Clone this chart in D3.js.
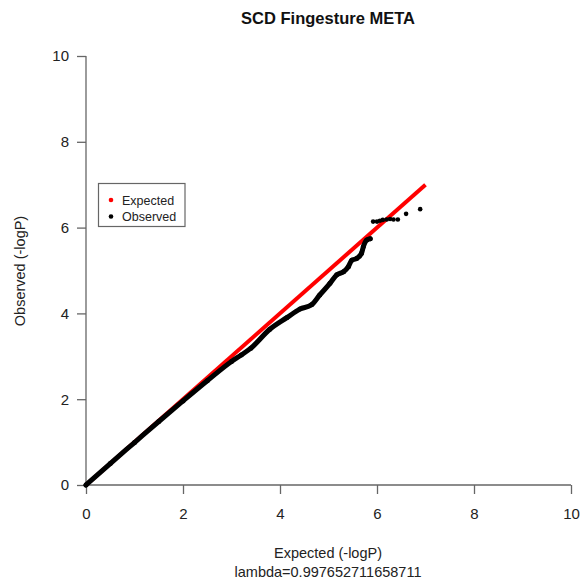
<!DOCTYPE html>
<html><head><meta charset="utf-8">
<script src="https://cdn.jsdelivr.net/npm/d3@7"></script>
<style>body{margin:0;background:#fff}</style>
</head><body>
<script>
const title = "SCD Fingesture META";
const xTicks = [0, 2, 4, 6, 8, 10];
const yTicks = [0, 2, 4, 6, 8, 10];
const expectedLine = [[0, 0], [7, 7]];
// dense part of observed curve (expected, observed)
const obsCurveX = [0, 0.5, 1, 1.5, 2, 2.5, 3, 3.2, 3.4, 3.79, 4.14, 4.41, 4.65, 4.82, 5.03, 5.17, 5.31, 5.41, 5.48, 5.58, 5.68, 5.72, 5.79, 5.86];
const obsCurveY = [0, 0.5, 0.99, 1.48, 1.96, 2.43, 2.88, 3.03, 3.19, 3.63, 3.9, 4.1, 4.2, 4.43, 4.7, 4.9, 4.97, 5.09, 5.24, 5.28, 5.4, 5.56, 5.71, 5.74];
// sparse tail points
const obsTailX = [5.92, 6.0, 6.06, 6.12, 6.2, 6.27, 6.34, 6.43, 6.6, 6.89];
const obsTailY = [6.14, 6.14, 6.16, 6.18, 6.19, 6.2, 6.19, 6.19, 6.32, 6.43];
const legendLabels = ["Expected", "Observed"];
const legendColors = ["#ff0000", "#000000"];
const lambdaText = "lambda=0.997652711658711";

const W = 583, H = 584;
const svg = d3.select("body").append("svg").attr("width", W).attr("height", H)
  .style("font-family", "'Liberation Sans', Arial, Helvetica, sans-serif");

const x = d3.scaleLinear().domain([0, 10]).range([86, 571]);
const y = d3.scaleLinear().domain([0, 10]).range([485, 56]);

const axisCol = "#666";
const xa = svg.append("g").attr("transform", `translate(0,${y(0)})`)
  .call(d3.axisBottom(x).tickValues(xTicks).tickSize(9).tickPadding(14).tickFormat(d3.format("d")));
const ya = svg.append("g").attr("transform", `translate(${x(0)},0)`)
  .call(d3.axisLeft(y).tickValues(yTicks).tickSize(9).tickPadding(8).tickFormat(d3.format("d")));
[xa, ya].forEach(g => {
  g.select(".domain").attr("stroke", axisCol).attr("stroke-width", 1.3);
  g.selectAll(".tick line").attr("stroke", axisCol).attr("stroke-width", 1.3);
  g.selectAll(".tick text").attr("fill", "#222").style("font-size", "15px")
    .style("font-family", "'Liberation Sans', Arial, sans-serif");
});
xa.select(".domain").attr("d", `M${x(0)},0H${x(10)}`);
ya.select(".domain").attr("d", `M0,${y(0)}V${y(10)}`);

const line = d3.line().x(d => x(d[0])).y(d => y(d[1]));
svg.append("path").datum(expectedLine).attr("d", line)
  .attr("stroke", "#ff0000").attr("stroke-width", 4).attr("fill", "none");

const curve = obsCurveX.map((v, i) => [v, obsCurveY[i]]);
svg.append("path").datum(curve).attr("d", d3.line().curve(d3.curveMonotoneX).x(d => x(d[0])).y(d => y(d[1])))
  .attr("stroke", "#000").attr("stroke-width", 5).attr("fill", "none")
  .attr("stroke-linejoin", "round").attr("stroke-linecap", "round");
svg.append("g").selectAll("circle").data(curve).join("circle")
  .attr("cx", d => x(d[0])).attr("cy", d => y(d[1])).attr("r", 2.5).attr("fill", "#000");
const tail = obsTailX.map((v, i) => [v, obsTailY[i]]);
svg.append("g").selectAll("circle").data(tail).join("circle")
  .attr("cx", d => x(d[0])).attr("cy", d => y(d[1])).attr("r", 2.3).attr("fill", "#000");

svg.append("text").attr("x", 328).attr("y", 24).attr("text-anchor", "middle")
  .style("font-size", "16.5px").style("font-weight", "bold").attr("fill", "#111").text(title);
svg.append("text").attr("x", 328).attr("y", 558).attr("text-anchor", "middle")
  .style("font-size", "14.5px").attr("fill", "#222").text("Expected (-logP)");
svg.append("text").attr("x", 328).attr("y", 577).attr("text-anchor", "middle")
  .style("font-size", "14.5px").attr("fill", "#222").text(lambdaText);
svg.append("text").attr("transform", `translate(25,271) rotate(-90)`).attr("text-anchor", "middle")
  .style("font-size", "14.5px").attr("fill", "#222").text("Observed (-logP)");

const lg = svg.append("g");
lg.append("rect").attr("x", 98.5).attr("y", 183.5).attr("width", 86.5).attr("height", 43)
  .attr("fill", "#fff").attr("stroke", axisCol).attr("stroke-width", 1.2);
legendLabels.forEach((lab, i) => {
  const cy = 200 + i * 16.5;
  lg.append("circle").attr("cx", 111).attr("cy", cy).attr("r", 2.3).attr("fill", legendColors[i]);
  lg.append("text").attr("x", 122).attr("y", cy + 4.5).style("font-size", "12.5px").attr("fill", "#222").text(lab);
});
</script>
</body></html>
